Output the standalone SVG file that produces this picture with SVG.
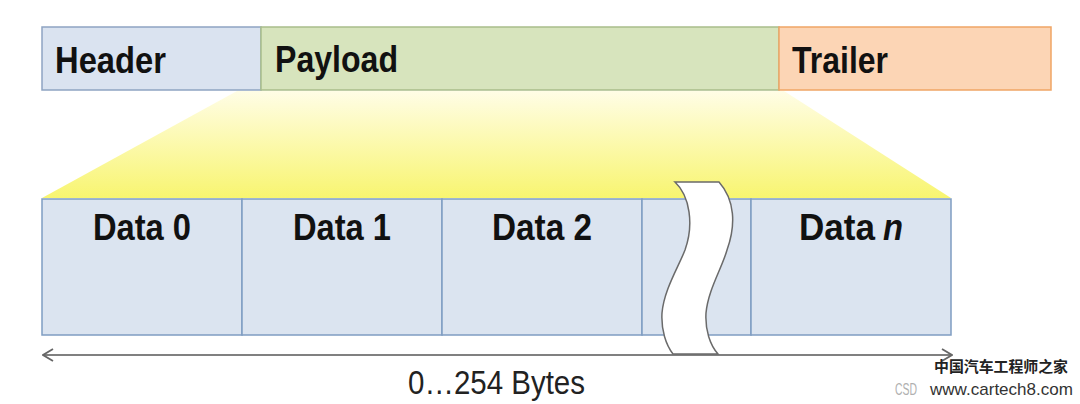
<svg xmlns="http://www.w3.org/2000/svg" width="1080" height="404" viewBox="0 0 1080 404">
<style>
.lbl{font-family:"Liberation Sans",Arial,sans-serif;font-weight:bold;font-size:37px;fill:#111}
.cell{fill:#dbe4f0;stroke:#7f9dc2;stroke-width:1.5}
.bytes{font-family:"Liberation Sans",Arial,sans-serif;font-size:33px;fill:#222}
</style>
<defs>
<linearGradient id="yel" x1="0" y1="0" x2="0" y2="1">
<stop offset="0" stop-color="#fffde6"/>
<stop offset="1" stop-color="#f8f570"/>
</linearGradient>
<marker id="chev" viewBox="0 0 12 14" refX="11" refY="7" markerWidth="12" markerHeight="14" markerUnits="userSpaceOnUse" orient="auto-start-reverse">
<path d="M1,1 L11,7 L1,13" fill="none" stroke="#666" stroke-width="1.8"/>
</marker>
</defs>
<rect width="1080" height="404" fill="#ffffff"/>
<polygon id="zoom-fan" points="237,91 784,91 951,198 42,198" fill="url(#yel)"/>
<g id="header">
<rect x="42" y="27" width="219" height="63" fill="#dae3f0" stroke="#8ea4c2" stroke-width="1.5"/>
<text class="lbl" x="55" y="73" textLength="111" lengthAdjust="spacingAndGlyphs">Header</text>
</g>
<g id="payload">
<rect x="261" y="27" width="518" height="63" fill="#d7e4bd" stroke="#a9bd8a" stroke-width="1.5"/>
<text class="lbl" x="275" y="72" textLength="123" lengthAdjust="spacingAndGlyphs">Payload</text>
</g>
<g id="trailer">
<rect x="779" y="27" width="272" height="63" fill="#fcd5b5" stroke="#f0a565" stroke-width="1.5"/>
<text class="lbl" x="792" y="73" textLength="96" lengthAdjust="spacingAndGlyphs">Trailer</text>
</g>
<g id="data0">
<rect class="cell" x="42" y="199" width="200" height="136"/>
<text class="lbl" x="142" y="240" text-anchor="middle" textLength="98" lengthAdjust="spacingAndGlyphs">Data 0</text>
</g>
<g id="data1">
<rect class="cell" x="242" y="199" width="200" height="136"/>
<text class="lbl" x="342" y="240" text-anchor="middle" textLength="98" lengthAdjust="spacingAndGlyphs">Data 1</text>
</g>
<g id="data2">
<rect class="cell" x="442" y="199" width="200" height="136"/>
<text class="lbl" x="542" y="240" text-anchor="middle" textLength="100" lengthAdjust="spacingAndGlyphs">Data 2</text>
</g>
<g id="data-gap">
<rect class="cell" x="642" y="199" width="109" height="136"/>
</g>
<g id="datan">
<rect class="cell" x="751" y="199" width="200" height="136"/>
<text class="lbl" x="799" y="240" textLength="76" lengthAdjust="spacingAndGlyphs">Data</text>
<text class="lbl" x="883" y="240" font-style="italic" textLength="20" lengthAdjust="spacingAndGlyphs">n</text>
</g>
<g id="connectors">
<line x1="43" y1="355" x2="952" y2="355" stroke="#808080" stroke-width="2" marker-start="url(#chev)" marker-end="url(#chev)"/>
</g>
<g id="break">
<path d="M675,182 L719,182 C735,200 736,225 727,250 C722,268 708,290 706,313 C705,330 710,345 718,354 L673,354 C666,345 661,330 662,313 C664,290 678,268 685,250 C694,225 690,196 675,182 Z" fill="#ffffff" stroke="#6a6a6a" stroke-width="1.5"/>
</g>
<g id="size-label">
<text class="bytes" x="408" y="394" textLength="177" lengthAdjust="spacingAndGlyphs">0…254 Bytes</text>
</g>
<g id="watermark">
<text x="934" y="372" font-family="'Noto Sans CJK SC',sans-serif" font-weight="bold" font-size="15" fill="#222" textLength="134" lengthAdjust="spacingAndGlyphs">中国汽车工程师之家</text>
<text x="895" y="395" font-family="'Liberation Sans',Arial,sans-serif" font-size="16" fill="#b0b0b0" textLength="22" lengthAdjust="spacingAndGlyphs">CSD</text>
<text x="930" y="395" font-family="'Liberation Sans',Arial,sans-serif" font-size="17" fill="#333" textLength="143" lengthAdjust="spacingAndGlyphs">www.cartech8.com</text>
</g>
</svg>
